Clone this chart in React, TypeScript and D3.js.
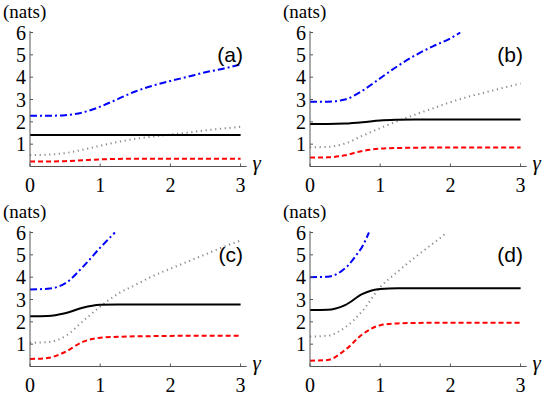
import * as d3 from 'd3';

// gamma grid shared by the full-length curves
const gammas = [0, 0.25, 0.5, 0.75, 1, 1.25, 1.5, 1.75, 2, 2.25, 2.5, 2.75, 3];

const xTicks = [0, 1, 2, 3];
const yTicks = [1, 2, 3, 4, 5, 6];

// panel (a)
const aBlueG = gammas;
const aBlue = [2.27, 2.27, 2.3, 2.42, 2.68, 3.02, 3.36, 3.62, 3.83, 4.02, 4.22, 4.38, 4.57];
const aBlack = [1.41, 1.41, 1.41, 1.41, 1.41, 1.41, 1.41, 1.41, 1.41, 1.41, 1.41, 1.41, 1.41];
const aGrayG = gammas;
const aGray = [0.51, 0.53, 0.6, 0.75, 0.93, 1.1, 1.24, 1.34, 1.43, 1.52, 1.62, 1.7, 1.78];
const aRed = [0.22, 0.22, 0.24, 0.28, 0.32, 0.34, 0.35, 0.35, 0.35, 0.35, 0.35, 0.35, 0.35];

// panel (b)
const bBlueG = [0, 0.25, 0.5, 0.75, 1, 1.25, 1.5, 1.75, 2, 2.14];
const bBlue = [2.9, 2.9, 3.0, 3.4, 3.95, 4.5, 4.98, 5.38, 5.74, 6.0];
const bBlack = [1.9, 1.9, 1.92, 1.98, 2.06, 2.09, 2.1, 2.1, 2.1, 2.1, 2.1, 2.1, 2.1];
const bGrayG = gammas;
const bGray = [0.86, 0.88, 1.03, 1.38, 1.72, 2.03, 2.33, 2.6, 2.88, 3.12, 3.32, 3.52, 3.72];
const bRed = [0.4, 0.41, 0.5, 0.7, 0.8, 0.83, 0.84, 0.85, 0.85, 0.85, 0.85, 0.85, 0.85];

// panel (c)
const cBlueG = [0, 0.25, 0.5, 0.75, 1, 1.21];
const cBlue = [3.45, 3.48, 3.72, 4.45, 5.32, 6.0];
const cBlack = [2.25, 2.26, 2.38, 2.63, 2.76, 2.78, 2.78, 2.78, 2.78, 2.78, 2.78, 2.78, 2.78];
const cGrayG = gammas;
const cGray = [1.06, 1.09, 1.35, 2.02, 2.68, 3.25, 3.65, 4.05, 4.38, 4.7, 5.02, 5.35, 5.64];
const cRed = [0.34, 0.38, 0.65, 1.1, 1.29, 1.33, 1.35, 1.36, 1.37, 1.38, 1.38, 1.38, 1.38];

// panel (d)
const dBlueG = [0, 0.25, 0.4, 0.55, 0.65, 0.75, 0.84];
const dBlue = [4.0, 4.02, 4.17, 4.55, 4.95, 5.4, 6.0];
const dBlack = [2.53, 2.54, 2.75, 3.25, 3.47, 3.5, 3.5, 3.5, 3.5, 3.5, 3.5, 3.5, 3.5];
const dGrayG = [0, 0.25, 0.5, 0.75, 1, 1.25, 1.5, 1.75, 1.95];
const dGray = [1.34, 1.38, 1.75, 2.5, 3.55, 4.25, 4.9, 5.5, 6.0];
const dRed = [0.26, 0.29, 0.74, 1.45, 1.85, 1.93, 1.95, 1.96, 1.96, 1.96, 1.96, 1.96, 1.96];

const panels = [
  { label: '(a)', x0: 30, y0: 166.5, blue: [aBlueG, aBlue], black: aBlack, gray: [aGrayG, aGray], red: aRed },
  { label: '(b)', x0: 310, y0: 166.5, blue: [bBlueG, bBlue], black: bBlack, gray: [bGrayG, bGray], red: bRed },
  { label: '(c)', x0: 30, y0: 366.5, blue: [cBlueG, cBlue], black: cBlack, gray: [cGrayG, cGray], red: cRed },
  { label: '(d)', x0: 310, y0: 366.5, blue: [dBlueG, dBlue], black: dBlack, gray: [dGrayG, dGray], red: dRed },
];

// serif wanted, but fall back to the narrow Liberation Sans rather than DejaVu Sans
const serif = "'Liberation Serif', 'DejaVu Serif', 'Liberation Sans', sans-serif";
const sans = "'Liberation Sans', Arial, sans-serif";

function Panel({ p }: { p: any }) {
  const x = d3.scaleLinear().domain([0, 3]).range([p.x0, p.x0 + 210.6]);
  const y = d3.scaleLinear().domain([0, 6]).range([p.y0, p.y0 - 134]);
  const line = d3
    .line<[number, number]>()
    .x((d) => x(d[0]))
    .y((d) => y(d[1]))
    .curve(d3.curveMonotoneX);
  const pts = (gs: number[], vs: number[]) => gs.map((g, i) => [g, vs[i]] as [number, number]);

  const axisColor = '#555';
  const tickStyle = { fontFamily: serif, fontSize: '20px' };
  return (
    <g>
      {/* curves */}
      <path d={line(pts(gammas, p.red)) || ''} fill="none" stroke="#ff0000" strokeWidth={2} strokeDasharray="5,3" />
      <path d={line(pts(p.gray[0], p.gray[1])) || ''} fill="none" stroke="#8a8a8a" strokeWidth={2} strokeDasharray="1.2,3.6" />
      <path d={line(pts(gammas, p.black)) || ''} fill="none" stroke="#000" strokeWidth={2} />
      <path d={line(pts(p.blue[0], p.blue[1])) || ''} fill="none" stroke="#0000ff" strokeWidth={2} strokeDasharray="7,3,2,3" />

      {/* axes */}
      <line x1={x(0)} x2={x(3) + 6} y1={p.y0} y2={p.y0} stroke={axisColor} strokeWidth={1} />
      <line x1={x(0)} x2={x(0)} y1={p.y0} y2={y(6) - 1.5} stroke={axisColor} strokeWidth={1} />
      {xTicks.map((t) => (
        <g key={'x' + t}>
          <line x1={x(t)} x2={x(t)} y1={p.y0} y2={p.y0 - 3} stroke={axisColor} />
          <text x={x(t)} y={p.y0 + 25} textAnchor="middle" style={tickStyle}>
            {t}
          </text>
        </g>
      ))}
      {yTicks.map((t) => (
        <g key={'y' + t}>
          <line x1={x(0)} x2={x(0) + 3} y1={y(t)} y2={y(t)} stroke={axisColor} />
          <text x={x(0) - 4} y={y(t) + 7} textAnchor="end" style={tickStyle}>
            {t}
          </text>
        </g>
      ))}
      <text x={x(3) + 12} y={p.y0 + 3} style={{ ...tickStyle, fontSize: '21px', fontStyle: 'italic' }}>
        γ
      </text>
      <text x={p.x0 - 27} y={p.y0 - 149} style={{ fontFamily: serif, fontSize: '19px' }}>
        (nats)
      </text>
      <text x={p.x0 + 213} y={p.y0 - 105} textAnchor="end" style={{ fontFamily: sans, fontSize: '21px' }}>
        {p.label}
      </text>
    </g>
  );
}

export default function App() {
  return (
    <svg width={550} height={399} style={{ display: 'block', position: 'absolute', left: 0, top: 0 }}>
      <rect width={550} height={399} fill="#fff" />
      {panels.map((p) => (
        <Panel key={p.label} p={p} />
      ))}
    </svg>
  );
}
